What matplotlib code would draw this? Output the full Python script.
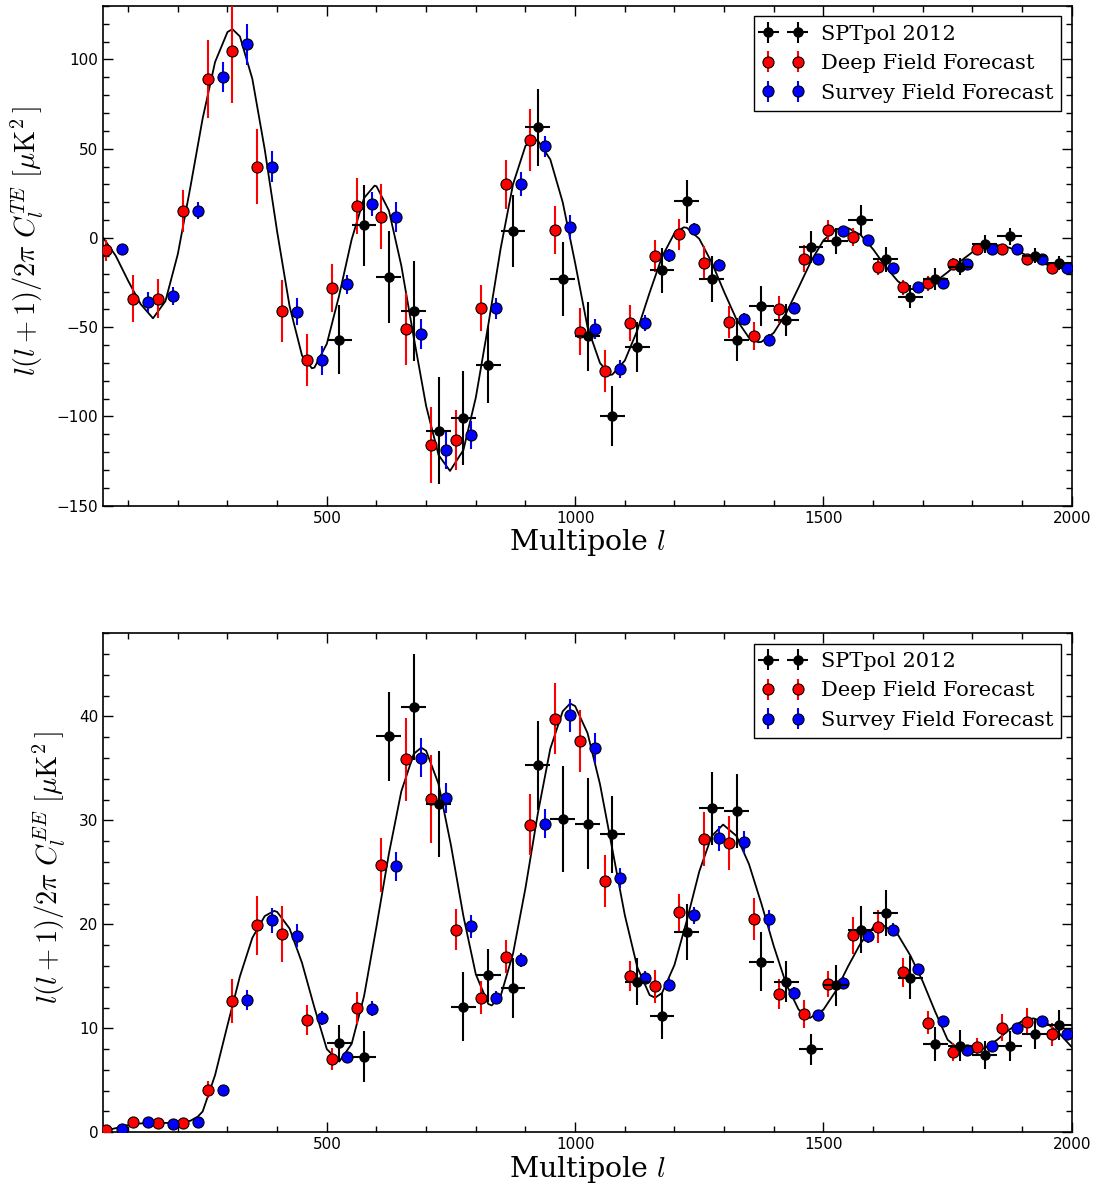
import matplotlib
matplotlib.use("Agg")
import matplotlib.pyplot as plt
from matplotlib.ticker import MultipleLocator

plt.rcParams['mathtext.fontset'] = 'cm'
plt.rcParams['font.family'] = ['DejaVu Sans']

# ---------------- TE spectrum ----------------
te_spt_l = [525, 575, 625, 675, 725, 775, 825, 875, 925, 975, 1025, 1075, 1125, 1175,
            1225, 1275, 1325, 1375, 1425, 1475, 1525, 1575, 1625, 1675, 1725, 1775,
            1825, 1875, 1925, 1975]
te_spt_v = [-57, 7, -22, -41, -108, -101, -71, 4, 62, -23, -55, -100, -61, -18,
            20.5, -23, -57, -38, -46, -5, -1.5, 10, -12, -33, -23, -16,
            -3.4, 1, -10, -14]
te_spt_e = [19.4, 22.6, 25.8, 28, 29.9, 26.4, 21.7, 20.2, 21.6, 20.5, 19.4, 16.8, 13.8, 12.6,
            12, 12.8, 12, 11.1, 9, 8.9, 7.2, 8.2, 7, 6.5, 6.1, 4.7,
            5.1, 4.7, 4.2, 3.9]
spt_bin_half = 25

te_deep_l = [55, 110, 160, 210, 260, 310, 360, 410, 460, 510, 560, 610, 660, 710, 760,
             810, 860, 910, 960, 1010, 1060, 1110, 1160, 1210, 1260, 1310, 1360, 1410,
             1460, 1510, 1560, 1610, 1660, 1710, 1760, 1810, 1860, 1910, 1960]
te_deep_v = [-7, -34, -34, 15, 89, 105, 40, -41, -68.5, -28, 18, 12, -51, -116, -113,
             -39, 30, 55, 4.5, -52.5, -74.5, -47.5, -10, 2, -14, -47, -55, -40,
             -11.6, 4.3, 0.4, -16, -27.6, -25.4, -14.6, -6.3, -6.3, -11.8, -17]
te_deep_e = [6, 13.3, 11, 11.9, 22, 29.5, 20.9, 17.4, 14.7, 13.2, 15.6, 18.4, 20.3, 21.5, 16.8,
             12.9, 13.5, 17.3, 13.4, 13.3, 11.9, 10, 8.9, 8.7, 9.7, 9, 8, 7.7,
             7.5, 5.8, 5.1, 5, 4.2, 4.1, 3.3, 3, 3, 3, 3]

te_survey_l = [88, 140, 190, 240, 290, 340, 390, 440, 490, 540, 590, 640, 690, 740, 790,
               840, 890, 940, 990, 1040, 1090, 1140, 1190, 1240, 1290, 1340, 1390, 1440,
               1490, 1540, 1590, 1640, 1690, 1740, 1790, 1840, 1890, 1940, 1990]
te_survey_v = [-6.4, -35.8, -32.5, 15.3, 90.3, 108.4, 40, -41.3, -68.5, -26, 19, 12, -53.8,
               -118.7, -110.3, -39.4, 30.4, 51.3, 6, -51, -73.5, -47.8, -9.7, 4.9, -15,
               -45.4, -57, -39, -12, 4, -1, -16.6, -27.3, -25.4, -14.8, -6.3, -6, -11.6, -16.6]
te_survey_e = [3, 5.4, 5, 4.7, 8.4, 11.5, 8.7, 7.7, 8, 5.3, 6.8, 8.4, 8.5,
               11, 8, 5.8, 6.6, 6, 6.7, 5.6, 5, 4.4, 3.7, 3.5, 3.5,
               3.3, 3, 3, 2.5, 2.5, 2, 2, 2, 2, 2, 2, 2, 2, 2]

te_model_l = [50, 75, 100, 125, 150, 175, 200, 225, 250, 275, 300, 310, 325, 350, 375, 400,
              425, 450, 470, 475, 500, 525, 550, 575, 596, 600, 625, 650, 675, 700, 725,
              748, 775, 800, 825, 850, 875, 900, 915, 925, 950, 975, 1000, 1025, 1050,
              1070, 1075, 1100, 1125, 1150, 1175, 1200, 1219, 1225, 1250, 1275, 1300,
              1325, 1350, 1369, 1375, 1400, 1425, 1450, 1475, 1500, 1525, 1545, 1550,
              1575, 1600, 1625, 1650, 1675, 1682, 1700, 1725, 1750, 1775, 1800, 1825,
              1842, 1850, 1875, 1900, 1925, 1950, 1975, 2000]
te_model_v = [0, -10, -24, -37, -45, -35.4, -9, 28.1, 67, 98.6, 115.4, 117, 112.9, 89.2,
              49.6, 3.5, -38.2, -65.8, -73, -72.6, -59.3, -32, -0.8, 22.4, 29.3, 29, 15.4,
              -15.5, -55.6, -94.2, -121.6, -130.5, -118.8, -89.4, -48.9, -5.9, 30.2, 51.6,
              55.3, 54.5, 44, 20, -14, -50, -70, -76.7, -76.5, -68.7, -51.9,
              -30.6, -10.5, 2.7, 6, 5.7, -0.5, -13.7, -30.2, -45.7, -55.9, -58.4, -58.2,
              -53.1, -42.1, -27.7, -13, -1.3, 4.9, 5.6, 5.5, 1.7, -6.3, -16, -24.3, -28.5,
              -28.7, -27.9, -24.5, -19.2, -13.2, -7.9, -4.6, -3.9, -4, -5.5, -8.5, -12,
              -15, -16.8, -17.5]

# ---------------- EE spectrum ----------------
ee_spt_l = te_spt_l
ee_spt_v = [8.6, 7.27, 38.1, 40.9, 31.6, 12.08, 15.1, 13.85, 35.3, 30.1, 29.7, 28.65,
            14.5, 11.18, 19.3, 31.15, 30.9, 16.4, 14.5, 8.0, 14.16, 19.5, 21.1, 14.87,
            8.49, 8.33, 7.43, 8.3, 9.45, 10.3]
ee_spt_e = [1.7, 2.45, 4.3, 5.1, 5.1, 3.3, 2.56, 2.9, 4.3, 5.1, 4.4, 3.7,
            2.3, 2.2, 2.7, 3.5, 3.6, 2.85, 2.0, 1.5, 1.97, 2.3, 2.2, 2.08,
            1.6, 1.5, 1.36, 1.44, 1.44, 1.47]

ee_deep_l = te_deep_l
ee_deep_v = [0.2, 1.02, 0.86, 0.93, 4.1, 12.65, 19.9, 19.07, 10.8, 7.05, 11.98, 25.7,
             35.9, 32.05, 19.5, 12.95, 16.9, 29.6, 39.8, 37.65, 24.2, 15.03, 14.04,
             21.15, 28.2, 27.85, 20.5, 13.3, 11.4, 14.3, 18.94, 19.77, 15.38, 10.54,
             7.72, 8.2, 10.06, 10.64, 9.42]
ee_deep_e = [0.2, 0.3, 0.3, 0.3, 0.83, 2.1, 2.8, 2.7, 1.4, 1.04, 1.55, 2.6,
             4.0, 4.2, 1.96, 1.6, 1.6, 2.9, 3.4, 2.96, 2.5, 1.44, 1.57,
             1.8, 2.6, 2.6, 2.0, 1.4, 1.36, 1.25, 1.8, 1.57, 1.36, 1.1,
             0.9, 0.9, 1.3, 1.3, 1.1]

ee_survey_l = te_survey_l
ee_survey_v = [0.3, 1.0, 0.8, 0.96, 4.1, 12.75, 20.4, 18.9, 10.96, 7.2, 11.9, 25.6,
               36.05, 32.2, 19.8, 12.95, 16.6, 29.7, 40.1, 37.0, 24.5, 14.8, 14.2,
               20.87, 28.27, 27.9, 20.5, 13.4, 11.3, 14.4, 18.85, 19.5, 15.67, 10.67,
               7.9, 8.3, 10.0, 10.73, 9.42]
ee_survey_e = [0.1, 0.15, 0.15, 0.15, 0.3, 0.96, 1.2, 1.1, 0.66, 0.5, 0.72, 1.4,
               1.9, 1.44, 1.07, 0.6, 0.67, 1.36, 1.6, 1.44, 0.96, 0.67, 0.6,
               0.85, 1.2, 1.04, 0.93, 0.6, 0.5, 0.5, 0.6, 0.6, 0.5, 0.5,
               0.4, 0.4, 0.4, 0.4, 0.4]

ee_model_l = [50, 75, 100, 125, 150, 175, 200, 225, 240, 250, 275, 300, 325, 350, 375,
              394, 400, 425, 450, 475, 500, 525, 550, 575, 600, 625, 650, 675, 690, 700,
              725, 750, 775, 800, 825, 832, 850, 875, 900, 925, 950, 975, 990, 1000,
              1025, 1050, 1075, 1100, 1125, 1150, 1161, 1175, 1200, 1225, 1250, 1275,
              1298, 1325, 1350, 1375, 1400, 1425, 1450, 1473, 1500, 1525, 1550, 1575,
              1600, 1617, 1650, 1675, 1700, 1725, 1750, 1775, 1800, 1825, 1850, 1875,
              1900, 1923, 1950, 1975, 2000]
ee_model_v = [0.1, 0.4, 0.7, 0.85, 0.9, 0.9, 0.9, 1.1, 1.5, 2.0, 5.5, 10.3, 15.0, 18.7,
              20.8, 21.3, 21.2, 19.6, 16.3, 12.0, 8.0, 6.8, 8.5, 13.1, 19.8, 26.8, 32.8,
              36.4, 37.0, 36.7, 33.5, 27.6, 20.8, 15.2, 12.35, 12.2, 13.1, 17.2, 23.5,
              30.7, 36.9, 40.5, 41.25, 41.0, 38.4, 33.5, 27.2, 20.9, 15.9, 13.2, 12.95,
              13.4, 16.1, 20.4, 25.1, 28.5, 29.6, 28.5, 25.8, 22.0, 17.9, 14.25, 11.8,
              11.0, 11.8, 13.6, 16.0, 18.2, 19.7, 20.0, 19.0, 17.0, 14.5, 11.6, 8.9, 7.9,
              7.65, 8.1, 8.9, 9.9, 10.7, 10.96, 10.5, 9.5, 8.2]

legend_labels = ['SPTpol 2012', 'Deep Field Forecast', 'Survey Field Forecast']

fig = plt.figure(figsize=(10.97, 11.88), dpi=100)
ax_te = fig.add_axes([0.0942, 0.5743, 0.8828, 0.4207])
ax_ee = fig.add_axes([0.0942, 0.0469, 0.8828, 0.4200])

serif = ['DejaVu Serif']


def draw_panel(ax, model_l, model_v, spt, deep, survey):
    ax.plot(model_l, model_v, color='black', lw=1.3, zorder=1)
    h1 = ax.errorbar(spt[0], spt[1], yerr=spt[2], xerr=spt_bin_half, fmt='o',
                     color='black', ms=6.5, mec='black', elinewidth=1.5, capsize=0,
                     zorder=4)
    h2 = ax.errorbar(deep[0], deep[1], yerr=deep[2], fmt='o', color='red',
                     ecolor='red', mfc='red', mec='black', mew=0.8, ms=8,
                     elinewidth=1.5, capsize=0, zorder=3)
    h3 = ax.errorbar(survey[0], survey[1], yerr=survey[2], fmt='o', color='blue',
                     ecolor='blue', mfc='blue', mec='black', mew=0.8, ms=8,
                     elinewidth=1.5, capsize=0, zorder=3)
    leg = ax.legend([h1, h2, h3], legend_labels, loc='upper right', numpoints=2,
                    fancybox=False, framealpha=1, edgecolor='black',
                    prop={'family': serif, 'size': 15}, borderaxespad=0.5,
                    handlelength=2.0, handletextpad=0.8, borderpad=0.4,
                    labelspacing=0.5)
    leg.get_frame().set_linewidth(1.0)
    ax.set_xlim(50, 2000)
    ax.xaxis.set_major_locator(MultipleLocator(500))
    ax.xaxis.set_minor_locator(MultipleLocator(100))
    ax.tick_params(which='both', direction='in', top=True, right=True,
                   labelsize=11, width=1.0)
    ax.tick_params(which='major', length=7)
    ax.tick_params(which='minor', length=4)
    for s in ax.spines.values():
        s.set_linewidth(1.2)
    ax.set_xlabel(r'Multipole $l$', fontsize=20.5, family=serif, labelpad=1)


draw_panel(ax_te, te_model_l, te_model_v,
           (te_spt_l, te_spt_v, te_spt_e),
           (te_deep_l, te_deep_v, te_deep_e),
           (te_survey_l, te_survey_v, te_survey_e))
ax_te.set_ylim(-150, 130)
ax_te.yaxis.set_major_locator(MultipleLocator(50))
ax_te.yaxis.set_minor_locator(MultipleLocator(10))
ax_te.set_ylabel(r'$l(l+1)/2\pi\ C_l^{TE}\ [\mu{\rm K}^2\,]$', fontsize=20.5)
ax_te.yaxis.set_label_coords(-0.059, 0.53)

draw_panel(ax_ee, ee_model_l, ee_model_v,
           (ee_spt_l, ee_spt_v, ee_spt_e),
           (ee_deep_l, ee_deep_v, ee_deep_e),
           (ee_survey_l, ee_survey_v, ee_survey_e))
ax_ee.set_ylim(0, 48)
ax_ee.yaxis.set_major_locator(MultipleLocator(10))
ax_ee.yaxis.set_minor_locator(MultipleLocator(2))
ax_ee.set_ylabel(r'$l(l+1)/2\pi\ C_l^{EE}\ [\mu{\rm K}^2\,]$', fontsize=20.5)
ax_ee.yaxis.set_label_coords(-0.037, 0.53)

fig.savefig('out.png', dpi=100)
